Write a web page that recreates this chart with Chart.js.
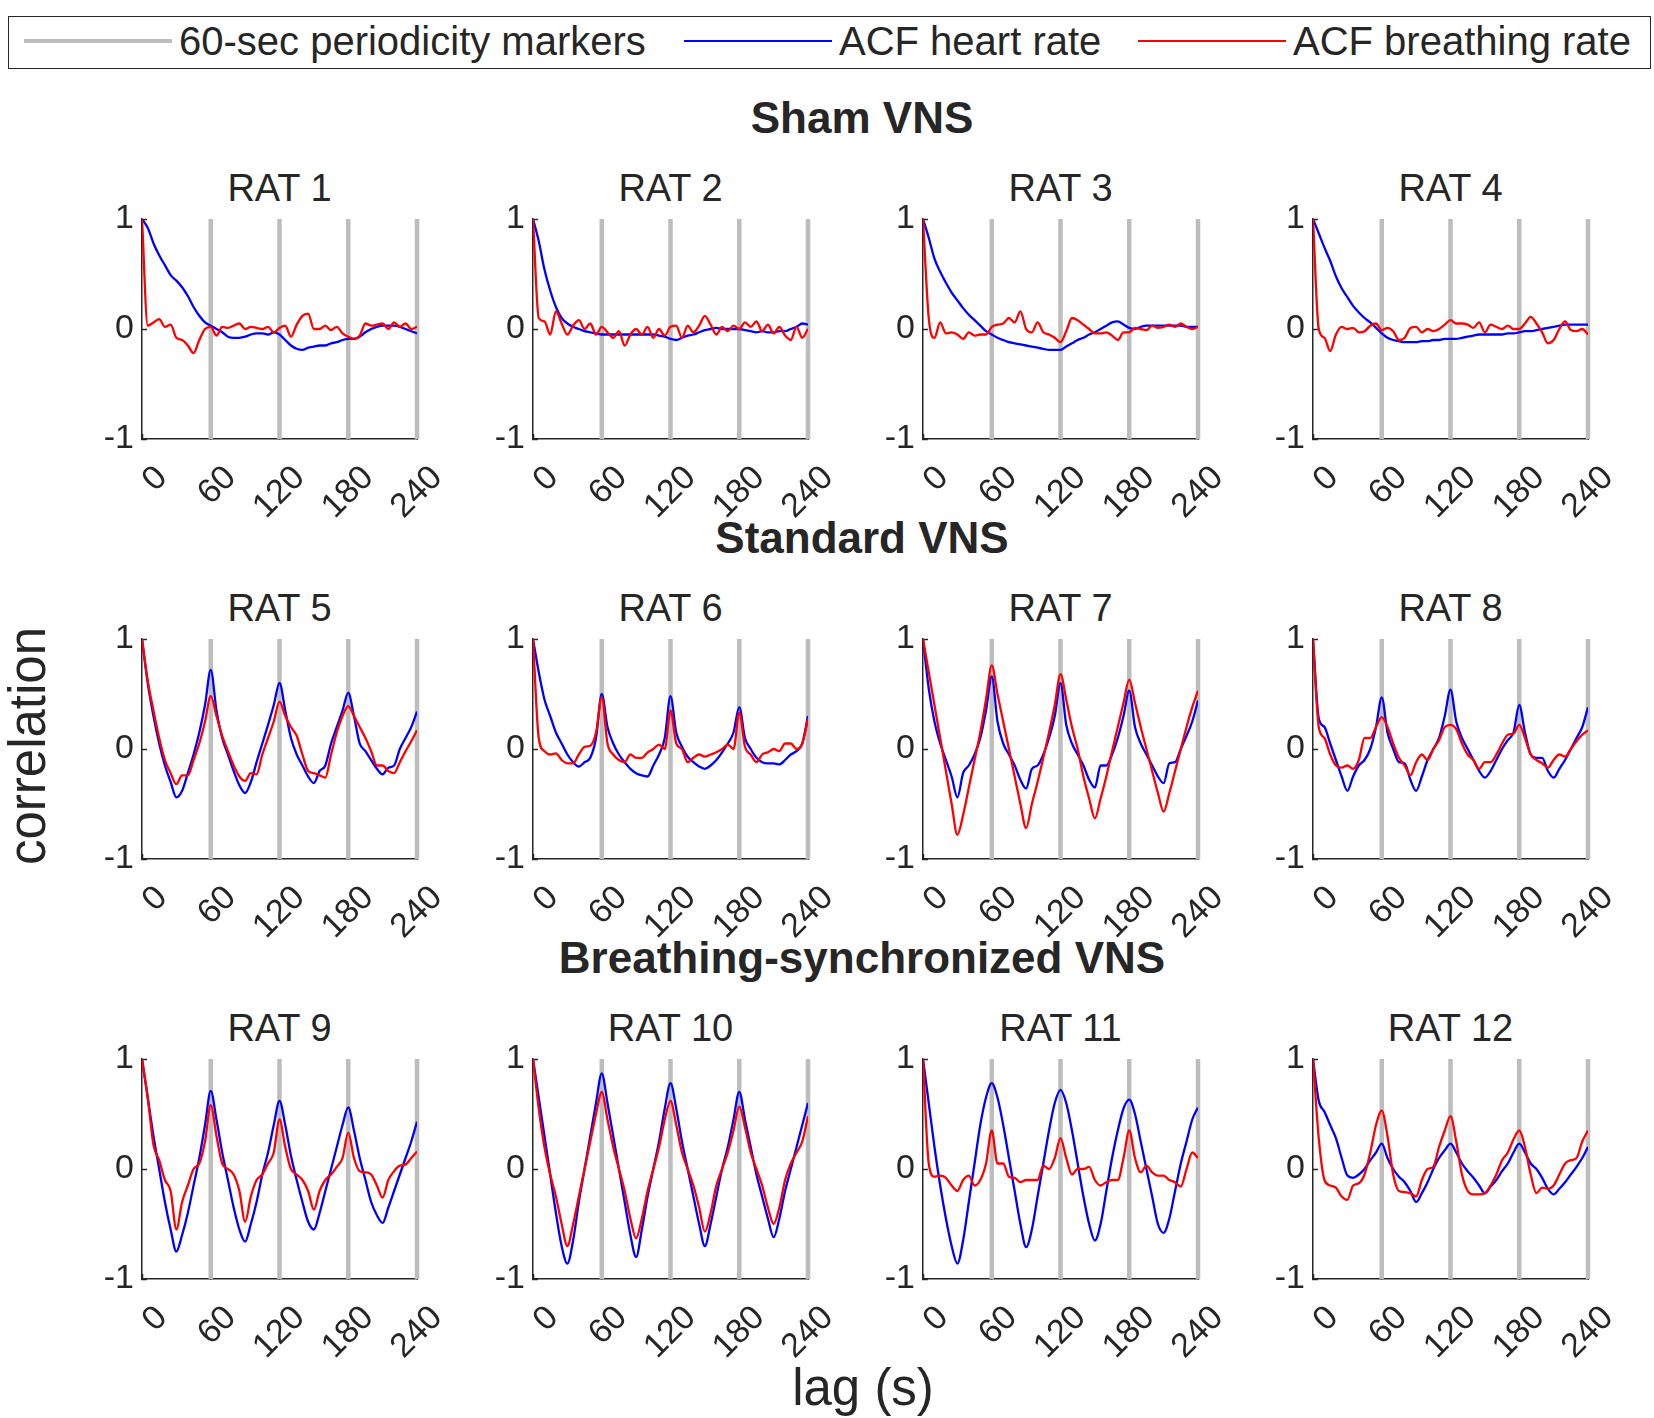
<!DOCTYPE html>
<html>
<head>
<meta charset="utf-8">
<script src="https://cdn.jsdelivr.net/npm/chart.js@4.4.1/dist/chart.umd.min.js"></script>
<style>
  body { margin: 0; background: #fff; }
  #page { position: relative; width: 1654px; height: 1418px; overflow: hidden;
          font-family: "Liberation Sans", Arial, sans-serif; color: #262626; }
  .txt { position: absolute; white-space: nowrap; line-height: 1; }
  .group { font-size: 44px; font-weight: bold; }
  .rat { font-size: 38px; }
  .axlab { font-size: 51px; }
  canvas { position: absolute; }
  #legend { position: absolute; left: 8px; top: 16px; width: 1643px; height: 53px;
            border: 1.5px solid #262626; box-sizing: border-box; }
  .sw { position: absolute; }
  .lt { position: absolute; font-size: 40px; line-height: 1; transform: translateY(-50%); white-space: nowrap; }
</style>
</head>
<body>
<div id="page"></div>
<script>
// lag axis (s)
const lags = [0,5,10,15,20,25,30,35,40,45,50,55,60,65,70,75,80,85,90,95,100,105,110,115,
  120,125,130,135,140,145,150,155,160,165,170,175,180,185,190,195,200,205,210,215,220,225,230,235,240];
const xTicks = [0, 60, 120, 180, 240];
const yTicks = [-1, 0, 1];
const markerLags = [60, 120, 180, 240];
const legendLabels = ['60-sec periodicity markers', 'ACF heart rate', 'ACF breathing rate'];
const groupTitles = ['Sham VNS', 'Standard VNS', 'Breathing-synchronized VNS'];
const ratTitles = ['RAT 1','RAT 2','RAT 3','RAT 4','RAT 5','RAT 6','RAT 7','RAT 8','RAT 9','RAT 10','RAT 11','RAT 12'];

// ACF heart rate (hr) and breathing rate (br)
const hrRat1 = [1,0.92,0.78,0.67,0.58,0.49,0.44,0.38,0.3,0.2,0.12,0.06,
  0.03,0,-0.03,-0.07,-0.08,-0.08,-0.07,-0.05,-0.04,-0.04,-0.05,-0.03,
  -0.05,-0.1,-0.15,-0.18,-0.19,-0.17,-0.16,-0.15,-0.15,-0.13,-0.12,-0.1,
  -0.09,-0.09,-0.07,-0.03,0,0.02,0.03,0.03,0.03,0.02,0,-0.02,-0.04];
const brRat1 = [1,0.03,0.06,0.09,0.02,0.04,-0.08,-0.1,-0.15,-0.22,-0.1,0,
  0.02,-0.06,0.02,0.01,0.03,0.05,0,0.02,0.01,0,0.02,-0.03,
  0.01,0.03,-0.07,0.04,0.12,0.14,0,0,0.03,-0.01,0.02,-0.04,
  -0.07,-0.09,-0.06,0.05,0.03,0.04,0.05,0,0.06,0.02,0.05,0,0.02];
const hrRat2 = [1,0.8,0.54,0.35,0.2,0.1,0.05,0.02,0,-0.02,-0.03,-0.04,
  -0.05,-0.05,-0.05,-0.05,-0.05,-0.05,-0.05,-0.05,-0.05,-0.05,-0.06,-0.07,
  -0.09,-0.1,-0.08,-0.06,-0.05,-0.03,-0.01,0,0.01,0,0,0,
  0,-0.01,-0.02,-0.03,-0.02,-0.03,-0.03,-0.02,-0.02,0,0.02,0.05,0.04];
const brRat2 = [1,0.1,0.07,-0.05,0.16,0.05,-0.05,0.03,0.08,0,0.05,-0.05,
  0.02,-0.03,-0.08,-0.02,-0.15,-0.05,0,-0.05,0.02,-0.08,0,-0.06,
  0.02,0.03,-0.08,0.03,-0.03,0.03,0.12,0.04,-0.05,0.02,-0.02,0.03,
  0,0.06,0.02,0.07,-0.02,0.04,-0.04,0.02,-0.06,-0.1,0.02,-0.08,0];
const hrRat3 = [1,0.83,0.64,0.52,0.42,0.33,0.26,0.19,0.13,0.08,0.03,-0.02,
  -0.05,-0.08,-0.1,-0.12,-0.13,-0.14,-0.15,-0.16,-0.17,-0.18,-0.19,-0.19,
  -0.19,-0.16,-0.13,-0.1,-0.08,-0.05,-0.03,0,0.03,0.06,0.07,0.04,
  0.01,0,0.02,0.03,0.03,0.03,0.03,0.03,0.03,0.03,0.02,0.02,0.02];
const brRat3 = [1,0.1,-0.08,0.06,-0.04,-0.03,-0.05,-0.09,-0.03,-0.06,-0.05,-0.05,
  0.02,0.04,0.05,0.1,0.06,0.16,0,-0.03,0.06,-0.03,-0.05,-0.08,
  -0.12,-0.02,0.1,0.08,0.04,0,-0.04,-0.04,-0.03,-0.06,-0.1,-0.03,
  -0.03,0.01,0,-0.01,0.03,0.01,0.02,0.04,0.02,0.05,0.02,0,0.02];
const hrRat4 = [1,0.87,0.74,0.62,0.48,0.37,0.29,0.21,0.15,0.1,0.06,0.01,
  -0.04,-0.08,-0.1,-0.11,-0.12,-0.12,-0.12,-0.11,-0.11,-0.1,-0.1,-0.09,
  -0.09,-0.09,-0.08,-0.07,-0.06,-0.05,-0.05,-0.05,-0.05,-0.05,-0.04,-0.04,
  -0.03,-0.02,-0.02,-0.01,0,0.01,0.02,0.03,0.04,0.04,0.04,0.04,0.04];
const brRat4 = [1,0,-0.08,-0.2,-0.05,0.02,0,0.01,-0.03,-0.02,0.03,0.05,
  -0.01,0.01,-0.02,-0.1,-0.08,0.01,0.02,-0.03,0,-0.02,0,0.04,
  0.08,0.05,0.05,0.04,0.01,0.06,-0.03,0.04,0.02,0,0.03,0,
  0,0.05,0.11,0.05,-0.03,-0.13,-0.1,0,0.07,-0.01,-0.02,0,-0.05];
const hrRat5 = [1,0.6,0.3,0.05,-0.15,-0.3,-0.44,-0.38,-0.22,-0.05,0.15,0.4,
  0.72,0.35,0.1,-0.05,-0.2,-0.33,-0.4,-0.3,-0.12,0.05,0.22,0.4,
  0.6,0.35,0.1,-0.05,-0.15,-0.25,-0.31,-0.2,-0.15,0.05,0.2,0.35,
  0.51,0.3,0.05,-0.02,-0.1,-0.18,-0.23,-0.17,-0.15,0,0.1,0.2,0.34];
const brRat5 = [1,0.62,0.35,0.1,-0.1,-0.22,-0.32,-0.24,-0.24,-0.1,0.05,0.25,
  0.48,0.3,0.12,-0.02,-0.15,-0.25,-0.29,-0.22,-0.23,-0.05,0.1,0.25,
  0.43,0.3,0.2,0.12,-0.05,-0.2,-0.22,-0.24,-0.26,-0.05,0.15,0.3,
  0.39,0.3,0.2,0.1,-0.02,-0.15,-0.15,-0.2,-0.22,-0.12,-0.02,0.07,0.17];
const hrRat6 = [1,0.7,0.45,0.3,0.15,0.05,-0.05,-0.12,-0.16,-0.12,-0.08,0.1,
  0.5,0.2,0.05,-0.05,-0.12,-0.18,-0.22,-0.24,-0.25,-0.15,-0.05,0.1,
  0.48,0.15,0.02,-0.07,-0.12,-0.16,-0.18,-0.15,-0.1,-0.03,0.05,0.15,
  0.38,0.1,0,-0.08,-0.12,-0.13,-0.13,-0.14,-0.1,-0.05,-0.02,0.05,0.3];
const brRat6 = [1,0.1,-0.02,-0.05,-0.04,-0.1,-0.13,-0.13,-0.05,0.02,0.03,0.15,
  0.47,0.05,-0.05,-0.1,-0.12,-0.05,-0.08,-0.08,-0.03,0,0.04,0,
  0.35,0.05,0,-0.12,-0.08,-0.05,-0.07,-0.05,-0.03,0,0.04,0,
  0.33,0.02,-0.05,-0.12,-0.05,-0.03,0,-0.02,0.05,0.05,0,0.05,0.27];
const hrRat7 = [1,0.55,0.25,0.05,-0.1,-0.25,-0.44,-0.22,-0.15,-0.05,0.1,0.35,
  0.66,0.25,0.05,-0.05,-0.15,-0.28,-0.36,-0.18,-0.15,-0.05,0.1,0.3,
  0.6,0.22,0.05,-0.05,-0.15,-0.28,-0.35,-0.15,-0.15,-0.05,0.1,0.3,
  0.53,0.2,0.05,-0.05,-0.15,-0.25,-0.31,-0.13,-0.12,0,0.12,0.25,0.44];
const brRat7 = [1,0.7,0.4,0.1,-0.2,-0.5,-0.78,-0.6,-0.35,-0.1,0.15,0.45,
  0.76,0.5,0.25,0,-0.25,-0.5,-0.72,-0.5,-0.3,-0.08,0.15,0.4,
  0.68,0.45,0.2,0,-0.25,-0.45,-0.63,-0.45,-0.25,-0.02,0.2,0.42,
  0.63,0.42,0.2,0,-0.2,-0.4,-0.57,-0.4,-0.2,0,0.2,0.38,0.53];
const hrRat8 = [1,0.28,0.2,0.05,-0.1,-0.25,-0.38,-0.25,-0.15,-0.1,0,0.2,
  0.47,0.15,0,-0.12,-0.13,-0.28,-0.38,-0.25,-0.1,0,0.1,0.3,
  0.54,0.25,0.1,0,-0.1,-0.2,-0.26,-0.2,-0.1,0,0.08,0.15,
  0.4,0.15,-0.05,-0.08,-0.08,-0.2,-0.26,-0.18,-0.1,0,0.1,0.2,0.38];
const brRat8 = [1,0.2,0.1,-0.05,-0.15,-0.17,-0.15,-0.18,-0.1,0.1,0.1,0.2,
  0.29,0.2,0.05,-0.08,-0.15,-0.24,-0.12,-0.05,-0.1,0,0.08,0.2,
  0.22,0.18,0.05,-0.05,-0.1,-0.18,-0.12,-0.12,-0.05,0.05,0.13,0.14,
  0.22,0.1,-0.05,-0.1,-0.13,-0.17,-0.1,-0.05,-0.07,0,0.07,0.13,0.17];
const hrRat9 = [1,0.65,0.3,0,-0.3,-0.55,-0.75,-0.6,-0.4,-0.15,0.1,0.4,
  0.71,0.45,0.15,-0.1,-0.35,-0.55,-0.66,-0.5,-0.3,-0.05,0.15,0.4,
  0.62,0.4,0.12,-0.1,-0.3,-0.48,-0.55,-0.4,-0.2,0,0.2,0.4,
  0.56,0.35,0.1,-0.1,-0.3,-0.42,-0.49,-0.35,-0.2,-0.05,0.1,0.25,0.43];
const brRat9 = [1,0.65,0.22,0.08,-0.1,-0.2,-0.55,-0.3,-0.15,0,0.05,0.25,
  0.58,0.3,0.05,0,-0.05,-0.2,-0.48,-0.25,-0.1,-0.05,0.05,0.15,
  0.45,0.2,0,-0.05,-0.1,-0.2,-0.37,-0.2,-0.1,-0.05,0.02,0.1,
  0.33,0.1,-0.02,-0.03,-0.05,-0.15,-0.26,-0.1,-0.02,0.03,0.04,0.1,0.16];
const hrRat10 = [1,0.65,0.3,-0.05,-0.4,-0.7,-0.86,-0.65,-0.3,0,0.3,0.6,
  0.87,0.6,0.3,0,-0.3,-0.6,-0.8,-0.55,-0.25,0,0.25,0.55,
  0.78,0.55,0.25,0,-0.25,-0.5,-0.7,-0.5,-0.25,0,0.2,0.45,
  0.7,0.45,0.2,-0.05,-0.25,-0.45,-0.62,-0.45,-0.2,0,0.2,0.4,0.6];
const brRat10 = [1,0.55,0.2,-0.05,-0.25,-0.5,-0.7,-0.5,-0.25,0,0.25,0.5,
  0.7,0.45,0.2,0,-0.2,-0.45,-0.63,-0.45,-0.2,0,0.2,0.45,
  0.62,0.4,0.15,0,-0.15,-0.35,-0.57,-0.4,-0.15,0,0.15,0.35,
  0.57,0.38,0.15,0,-0.15,-0.35,-0.5,-0.35,-0.1,0.05,0.15,0.25,0.48];
const hrRat11 = [1,0.6,0.2,-0.15,-0.45,-0.7,-0.86,-0.65,-0.3,0.05,0.4,0.65,
  0.78,0.65,0.4,0.1,-0.2,-0.5,-0.71,-0.55,-0.25,0.05,0.35,0.6,
  0.72,0.6,0.35,0.05,-0.25,-0.5,-0.65,-0.5,-0.2,0.1,0.35,0.55,
  0.63,0.5,0.25,0,-0.25,-0.5,-0.58,-0.45,-0.2,0.05,0.25,0.45,0.56];
const brRat11 = [1,0.05,-0.07,-0.06,-0.08,-0.15,-0.2,-0.1,-0.06,-0.15,-0.1,0.05,
  0.35,0.05,0.05,-0.07,-0.08,-0.12,-0.1,-0.1,-0.1,0.03,0,0.1,
  0.28,0.1,-0.05,0,0,0.02,-0.1,-0.15,-0.12,-0.1,-0.1,0.1,
  0.35,0.1,-0.03,0.03,-0.03,-0.06,-0.06,-0.1,-0.12,-0.16,0,0.15,0.1];
const hrRat12 = [1,0.62,0.52,0.4,0.28,0.1,-0.06,-0.08,-0.05,0,0.08,0.15,
  0.23,0.1,0,-0.07,-0.12,-0.2,-0.3,-0.22,-0.12,0,0.1,0.17,
  0.23,0.15,0.05,-0.02,-0.08,-0.15,-0.22,-0.16,-0.1,-0.02,0.05,0.15,
  0.23,0.15,0.05,0,-0.08,-0.18,-0.23,-0.18,-0.12,-0.05,0.02,0.1,0.2];
const brRat12 = [1,0.28,-0.1,-0.15,-0.17,-0.25,-0.28,-0.15,-0.13,-0.05,0.15,0.4,
  0.53,0.3,-0.05,-0.2,-0.21,-0.22,-0.25,-0.1,0,0.02,0.2,0.35,
  0.48,0.25,-0.05,-0.2,-0.23,-0.23,-0.22,-0.15,-0.05,0.08,0.15,0.27,
  0.35,0.2,-0.05,-0.22,-0.17,-0.18,-0.15,-0.05,0.05,0.08,0.1,0.25,0.35];

const heartSeries = [hrRat1,hrRat2,hrRat3,hrRat4,hrRat5,hrRat6,hrRat7,hrRat8,hrRat9,hrRat10,hrRat11,hrRat12];
const breathSeries = [brRat1,brRat2,brRat3,brRat4,brRat5,brRat6,brRat7,brRat8,brRat9,brRat10,brRat11,brRat12];

// layout (page pixels)
const colLeft = [142, 533, 923, 1313];
const rowTop = [219, 639, 1059];
const plotW = 275, plotH = 220;
const AXIS_W = 60, AXIS_H = 100, PAD_T = 40, PAD_R = 70;
const ink = '#262626';
const markerColor = '#bdbdbd', heartColor = '#0000ff', breathColor = '#ff0000';

Chart.defaults.font.family = '"Liberation Sans", Arial, sans-serif';
Chart.defaults.color = ink;

const page = document.getElementById('page');

function addText(cls, text, x, y, rot) {
  const d = document.createElement('div');
  d.className = 'txt ' + cls;
  d.textContent = text;
  d.style.left = x + 'px';
  d.style.top = y + 'px';
  d.style.transform = 'translate(-50%, -50%)' + (rot ? ' rotate(' + rot + 'deg)' : '');
  page.appendChild(d);
  return d;
}

// legend
const legend = document.createElement('div');
legend.id = 'legend';
page.appendChild(legend);
const legendSwatch = [[15, 4.5, markerColor], [675, 1.5, heartColor], [1129, 1.5, breathColor]];
legendLabels.forEach((lab, i) => {
  const [sx, lw, col] = legendSwatch[i];
  const sw = document.createElement('div');
  sw.className = 'sw';
  sw.style.left = sx + 'px';
  sw.style.width = '148px';
  sw.style.top = (24 - lw / 2) + 'px';
  sw.style.height = lw + 'px';
  sw.style.background = col;
  legend.appendChild(sw);
  const t = document.createElement('div');
  t.className = 'lt';
  t.textContent = lab;
  t.style.left = (sx + 155) + 'px';
  t.style.top = '24px';
  legend.appendChild(t);
});

// titles
groupTitles.forEach((g, r) => addText('group', g, 862, rowTop[r] - 101));
addText('axlab', 'correlation', 27, 746, -90);
addText('axlab', 'lag (s)', 863, 1387);

function markerData() {
  const pts = [];
  markerLags.forEach(m => {
    pts.push({x: m, y: yTicks[0]}, {x: m, y: yTicks[yTicks.length - 1]}, {x: m, y: null});
  });
  return pts;
}

function series(values) {
  return lags.map((x, i) => ({x: x, y: values[i]}));
}

function panel(idx) {
  const r = Math.floor(idx / 4), c = idx % 4;
  addText('rat', ratTitles[idx], colLeft[c] + plotW / 2, rowTop[r] - 31);
  const cv = document.createElement('canvas');
  const w = AXIS_W + plotW + PAD_R, h = PAD_T + plotH + AXIS_H;
  cv.width = w; cv.height = h;
  cv.style.width = w + 'px'; cv.style.height = h + 'px';
  cv.style.left = (colLeft[c] - AXIS_W) + 'px';
  cv.style.top = (rowTop[r] - PAD_T) + 'px';
  page.appendChild(cv);
  new Chart(cv, {
    type: 'line',
    data: {
      datasets: [
        { label: legendLabels[0], data: markerData(), borderColor: markerColor, borderWidth: 4.5,
          pointRadius: 0, spanGaps: false, clip: false, order: 3 },
        { label: legendLabels[1], data: series(heartSeries[idx]), borderColor: heartColor, borderWidth: 2.3,
          pointRadius: 0, cubicInterpolationMode: 'monotone', order: 2 },
        { label: legendLabels[2], data: series(breathSeries[idx]), borderColor: breathColor, borderWidth: 2.3,
          pointRadius: 0, cubicInterpolationMode: 'monotone', order: 1 }
      ]
    },
    options: {
      responsive: false,
      animation: false,
      events: [],
      layout: { padding: { top: PAD_T, right: PAD_R, left: 0, bottom: 0 } },
      plugins: { legend: { display: false }, tooltip: { enabled: false }, title: { display: false } },
      scales: {
        x: {
          type: 'linear', min: 0, max: 240, z: 1,
          afterBuildTicks: s => { s.ticks = xTicks.map(v => ({value: v})); },
          afterFit: s => { s.height = AXIS_H; },
          ticks: { autoSkip: false, minRotation: 45, maxRotation: 45, font: { size: 34 },
                   color: ink, padding: 24, labelOffset: 20 },
          grid: { display: true, drawOnChartArea: false, drawTicks: true, tickLength: -5, color: ink, tickWidth: 1.5 },
          border: { display: true, color: ink, width: 1.5 }
        },
        y: {
          type: 'linear', min: -1, max: 1, z: 1,
          afterBuildTicks: s => { s.ticks = yTicks.map(v => ({value: v})); },
          afterFit: s => { s.width = AXIS_W; },
          ticks: { font: { size: 34 }, color: ink, padding: 13 },
          grid: { display: true, drawOnChartArea: false, drawTicks: true, tickLength: -5, color: ink, tickWidth: 1.5 },
          border: { display: true, color: ink, width: 1.5 }
        }
      }
    }
  });
}

for (let i = 0; i < 12; i++) panel(i);
</script>
</body>
</html>
